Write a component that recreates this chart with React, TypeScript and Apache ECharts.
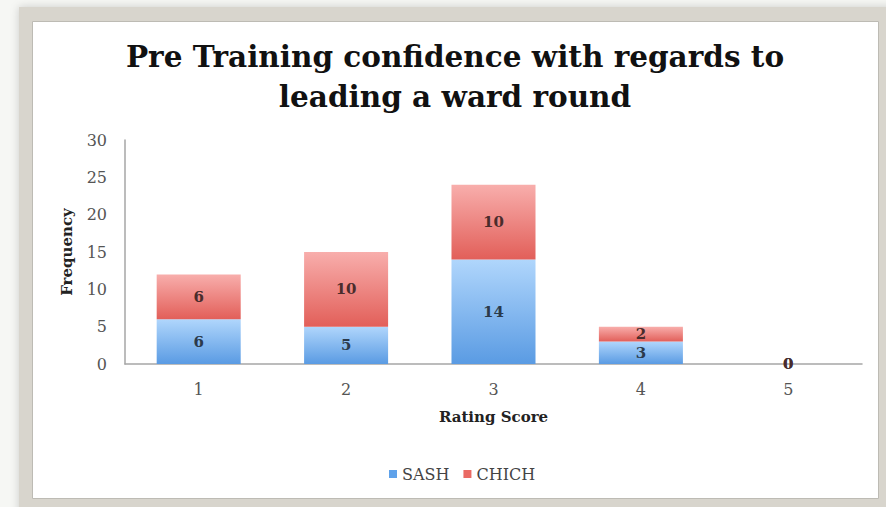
import React, { useEffect, useRef } from "react";
import * as echarts from "echarts";

const categories = ["1", "2", "3", "4", "5"];
const sashValues = [6, 5, 14, 3, 0];
const chichValues = [6, 10, 10, 2, 0];
const yTicks = { min: 0, max: 30, interval: 5 };
const titleText = "Pre Training confidence with regards to\nleading a ward round";
const xName = "Rating Score";
const yName = "Frequency";
const seriesNames = ["SASH", "CHICH"];

const FONT = "'DejaVu Serif', serif";

export default function App() {
  const ref = useRef<HTMLDivElement>(null);
  useEffect(() => {
    document.body.style.margin = "0";
    const chart = echarts.init(ref.current!, null, { renderer: "svg" });
    const blue = new echarts.graphic.LinearGradient(0, 0, 0, 1, [
      { offset: 0, color: "#b0d6fc" },
      { offset: 1, color: "#5a9be3" },
    ]);
    const red = new echarts.graphic.LinearGradient(0, 0, 0, 1, [
      { offset: 0, color: "#f8aeac" },
      { offset: 1, color: "#e25f59" },
    ]);
    const label = (color: string) => ({
      show: true,
      position: "inside" as const,
      color,
      fontFamily: FONT,
      fontWeight: "bold" as const,
      fontSize: 15,
    });
    chart.setOption({
      animation: false,
      backgroundColor: "#f6f7f4",
      graphic: [
        {
          type: "rect",
          z: -10,
          shape: { x: 19, y: 7, width: 880, height: 510 },
          style: { fill: "#d8d5cd", shadowColor: "rgba(0,0,0,0.18)", shadowBlur: 8 },
        },
        {
          type: "rect",
          z: -9,
          shape: { x: 32.5, y: 21.5, width: 846, height: 477 },
          style: { fill: "#ffffff", stroke: "#bdbbb4", lineWidth: 1 },
        },
      ],
      title: {
        text: titleText,
        left: 450,
        top: 31,
        textAlign: "center",
        textStyle: {
          fontFamily: FONT,
          fontWeight: "bold",
          fontSize: 29.5,
          lineHeight: 40,
          color: "#111",
        },
      },
      legend: {
        bottom: 20,
        left: 384,
        itemWidth: 8,
        itemHeight: 8,
        itemGap: 14,
        icon: "rect",
        textStyle: { fontFamily: FONT, fontSize: 16, color: "#444" },
        data: [
          { name: seriesNames[0], itemStyle: { color: "#5fa2ea" } },
          { name: seriesNames[1], itemStyle: { color: "#ea6a64" } },
        ],
      },
      grid: { left: 125, right: 24, top: 140, bottom: 143, containLabel: false },
      xAxis: {
        type: "category",
        data: categories,
        name: xName,
        nameLocation: "middle",
        nameGap: 45,
        nameTextStyle: { fontFamily: FONT, fontWeight: "bold", fontSize: 15, color: "#222" },
        axisLine: { lineStyle: { color: "#a6a6a6", width: 1.5 } },
        axisTick: { show: false },
        axisLabel: { fontFamily: FONT, fontSize: 16, color: "#555", margin: 17 },
      },
      yAxis: {
        type: "value",
        min: yTicks.min,
        max: yTicks.max,
        interval: yTicks.interval,
        name: yName,
        nameLocation: "middle",
        nameGap: 51,
        nameTextStyle: { fontFamily: FONT, fontWeight: "bold", fontSize: 15, color: "#222" },
        axisLine: { show: true, lineStyle: { color: "#a6a6a6", width: 1.5 } },
        axisTick: { show: false },
        splitLine: { show: false },
        axisLabel: { fontFamily: FONT, fontSize: 16, color: "#555", margin: 18 },
      },
      series: [
        {
          name: seriesNames[0],
          type: "bar",
          stack: "total",
          barWidth: "57%",
          data: sashValues,
          itemStyle: { color: blue },
          label: label("#2b3a4c"),
        },
        {
          name: seriesNames[1],
          type: "bar",
          stack: "total",
          barWidth: "57%",
          data: chichValues,
          itemStyle: { color: red },
          label: label("#4a2c2c"),
        },
      ],
    });
    return () => chart.dispose();
  }, []);
  return <div ref={ref} style={{ width: 886, height: 507 }} />;
}
